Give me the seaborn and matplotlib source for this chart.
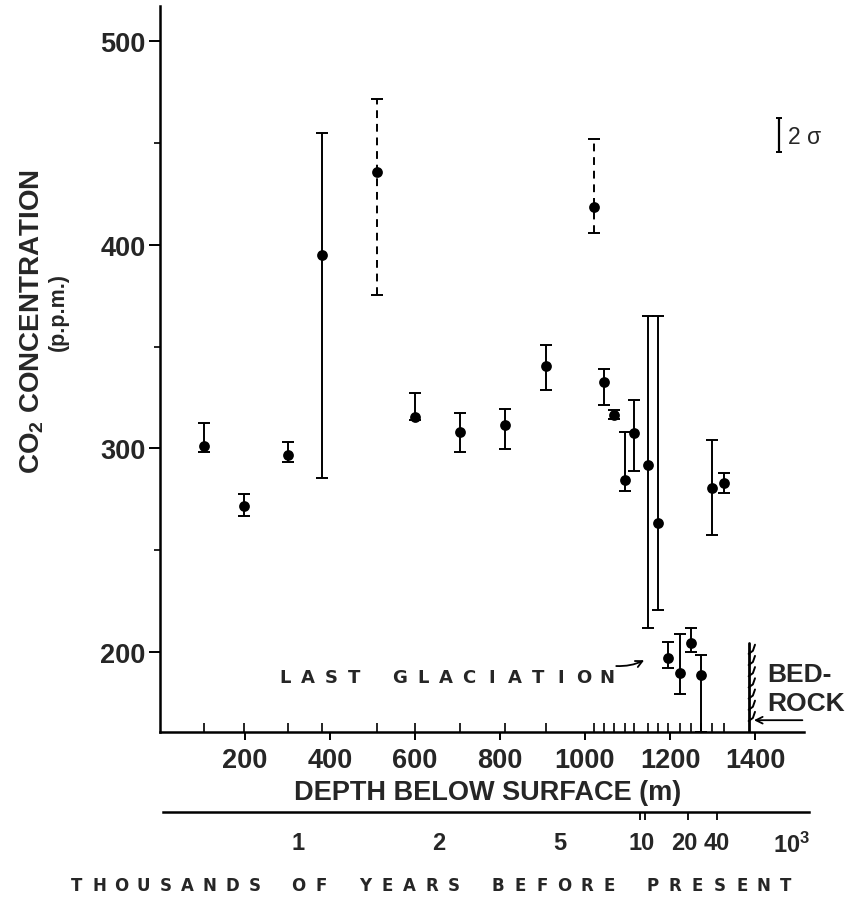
import numpy as np
import pandas as pd
import matplotlib
matplotlib.use("Agg")
import matplotlib.pyplot as plt
import seaborn as sns

# depth of each ice sample (m) and CO2 with the ends of its 2 sigma bar (p.p.m.)
depth = [103, 197, 302, 382, 510, 601, 707, 812, 909, 1022, 1045,
         1068, 1095, 1115, 1148, 1172, 1195, 1223, 1249, 1274, 1300, 1326]
co2 = [301, 271.5, 296.5, 395, 436, 315.5, 308, 311.5, 340.5, 418.5, 332.5,
       316.5, 284.5, 307.5, 292, 263.5, 197, 189.5, 204.5, 188.5, 280.5, 283]
co2_hi = [312.5, 277.5, 303, 455, 471.5, 327, 317.5, 319.5, 351, 452, 339,
          319, 308, 323.5, 365, 365, 205, 209, 211.5, 198.5, 304, 288]
co2_lo = [298, 266.5, 293.5, 285.5, 375.5, 314, 298, 299.5, 328.5, 406, 321.5,
          314.5, 279, 289, 211.5, 220.5, 192, 179.5, 200, 160.6, 257.5, 278]
bar_style = ['solid'] * 4 + ['dashed'] + ['solid'] * 4 + ['dashed'] + ['solid'] * 12

depth_ticks = [200, 400, 600, 800, 1000, 1200, 1400]
co2_ticks = [200, 300, 400, 500]
co2_minor = [250, 350, 450]

# age scale (thousands of years) placed against depth
age_labels = ['1', '2', '5', '10', '20', '40', r'$\mathbf{10^{3}}$']
age_label_depth = [325, 655, 940, 1133, 1234, 1309, 1485]
age_mark_depth = [325, 655, 940, 1129, 1141, 1243, 1310]

bedrock_depth = 1385
bedrock_hatch = [199, 193.5, 188, 182.5, 177, 171.5, 166]

W, H = 859, 912

sns.set_theme(style="ticks")
plt.rcParams['font.family'] = ['Liberation Sans', 'DejaVu Sans']
plt.rcParams['font.weight'] = 'bold'
plt.rcParams['mathtext.fontset'] = 'custom'
plt.rcParams['mathtext.rm'] = 'Liberation Sans'
plt.rcParams['mathtext.bf'] = 'Liberation Sans:bold'

df = pd.DataFrame({'depth': depth, 'co2': co2, 'hi': co2_hi, 'lo': co2_lo,
                   'style': bar_style})

fig = plt.figure(figsize=(W / 100, H / 100), dpi=100)
x0, x1 = 0, 1515
y0, y1 = 160.6, 517.5
ax = fig.add_axes([160 / W, 1 - 733 / H, 0.425 * (x1 - x0) / W, 2.035 * (y1 - y0) / H])

for style, grp in df.groupby('style'):
    eb = ax.errorbar(grp['depth'], grp['co2'],
                     yerr=[grp['co2'] - grp['lo'], grp['hi'] - grp['co2']],
                     fmt='none', ecolor='black', elinewidth=1.4, capsize=4,
                     capthick=1.4, zorder=2)
    if style == 'dashed':
        eb[2][0].set_linestyle((0, (4, 3)))

sns.scatterplot(data=df, x='depth', y='co2', color='black', s=60,
                linewidth=0, ax=ax, zorder=3, legend=False)

ax.set_xlim(x0, x1)
ax.set_ylim(y0, y1)
ax.set_xlabel('')
ax.set_ylabel('')
sns.despine(ax=ax)
for s in ['left', 'bottom']:
    ax.spines[s].set_linewidth(1.8)
    ax.spines[s].set_color('black')

ax.set_xticks(depth_ticks)
ax.set_xticks(depth, minor=True)
ax.set_yticks(co2_ticks)
ax.set_yticks(co2_minor, minor=True)
ax.tick_params(axis='x', which='major', direction='out', length=6, width=1.4,
               labelsize=19.5, pad=4.8, color='black')
ax.tick_params(axis='x', which='minor', direction='in', length=6.5, width=1.2,
               color='black')
ax.tick_params(axis='y', which='major', direction='out', length=8, width=1.4,
               labelsize=19.5, pad=2.4, color='black')
ax.tick_params(axis='y', which='minor', direction='out', length=4, width=1.2,
               color='black')

# bedrock marker
ax.plot([bedrock_depth, bedrock_depth], [y0, 204.4], color='black', lw=2)
for p in bedrock_hatch:
    ax.plot([bedrock_depth, bedrock_depth + 10, bedrock_depth + 15],
            [p, p + 1.5, p + 4.5], color='black', lw=1.4)
ax.annotate('', xy=(bedrock_depth + 6, 166.4), xytext=(1518, 166.4),
            arrowprops=dict(arrowstyle='->', lw=1.3, color='black'),
            annotation_clip=False)
ax.text(1430, 189.3, 'BED-', fontsize=19, va='center', ha='left')
ax.text(1430, 175, 'ROCK', fontsize=19, va='center', ha='left')

# last glaciation arrow
ax.annotate('', xy=(1145, 196.5), xytext=(1067, 193.1),
            arrowprops=dict(arrowstyle='->', lw=1.3, color='black',
                            connectionstyle='arc3,rad=0.15'))

# 2 sigma scale bar
ax.errorbar([1456], [454], yerr=[8.2], fmt='none', ecolor='black',
            elinewidth=1.6, capsize=2.5, capthick=1.4)
ax.text(1478, 453.2, '2 σ', fontsize=16.5, fontweight='normal', va='center', ha='left')

# age axis under the depth axis
ax2 = fig.add_axes([160 / W, 1 - 813 / H, 0.425 * 1530 / W, 0.0005])
ax2.set_xlim(0, 1530)
ax2.patch.set_visible(False)
for s in ['left', 'right', 'top']:
    ax2.spines[s].set_visible(False)
ax2.spines['bottom'].set_linewidth(1.8)
ax2.spines['bottom'].set_color('black')
ax2.spines['bottom'].set_bounds(6, 1527)
ax2.set_yticks([])
ax2.set_xticks(age_label_depth, age_labels)
ax2.set_xticks(age_mark_depth, minor=True)
ax2.tick_params(axis='x', which='major', length=0, labelsize=17, pad=14)
ax2.tick_params(axis='x', which='minor', direction='out', length=5.8, width=1.3,
                color='black')


def spaced_text(text, xa, xb, y, size):
    step = (xb - xa) / (len(text) - 1)
    for i, ch in enumerate(text):
        fig.text((xa + i * step) / W, 1 - y / H, ch, ha='center', va='center',
                 fontsize=size, family='DejaVu Sans', fontweight='bold')


spaced_text('LAST GLACIATION', 285, 607, 678, 13)
spaced_text('THOUSANDS OF YEARS BEFORE PRESENT', 77, 786, 886, 12)

fig.text(488 / W, 1 - 793 / H, 'DEPTH BELOW SURFACE (m)', fontsize=19.5,
         ha='center', va='center')
fig.text(32 / W, 1 - 322 / H, r'CO$_\mathbf{2}$ CONCENTRATION', fontsize=20,
         rotation=90, ha='center', va='center')
fig.text(58 / W, 1 - 312 / H, '(p.p.m.)', fontsize=15.5, rotation=90,
         ha='center', va='center')

fig.savefig('out.png', dpi=100)
